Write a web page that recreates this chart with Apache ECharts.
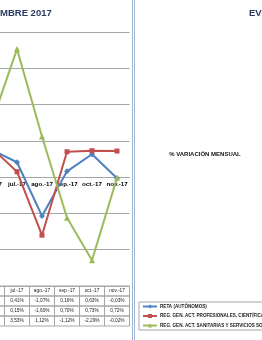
<!DOCTYPE html>
<html><head><meta charset="utf-8">
<script src="https://cdn.jsdelivr.net/npm/echarts@6/dist/echarts.min.js"></script>
<style>html,body{margin:0;padding:0;background:#fff;overflow:hidden;width:262px;height:340px;position:relative}#c{position:absolute;left:-40px;top:0;width:302px;height:340px}</style>
</head><body><div id="c"></div>
<script>
const months = ['jun.-17', 'jul.-17', 'ago.-17', 'sep.-17', 'oct.-17', 'nov.-17'];
const reta = [0.75, 0.41, -1.07, 0.16, 0.63, -0.03];
const profesionales = [0.80, 0.15, -1.60, 0.70, 0.73, 0.72];
const sanitarias = [1.53, 3.53, 1.12, -1.12, -2.29, -0.02];
const seriesNames = ['RETA (AUTÓNOMOS)', 'REG. GEN. ACT. PROFESIONALES, CIENTÍFICAS Y TÉCNICAS', 'REG. GEN. ACT. SANITARIAS Y SERVICIOS SOCIALES'];
const colors = ['#4f81bd', '#c0504d', '#9bbb59'];
const symbols = ['diamond', 'rect', 'triangle'];
const yMin = -3, yMax = 4, yInterval = 1;
const titleLeft = 'MBRE 2017';
const titleRight = 'EV';
const rightSubtitle = '% VARIACIÓN MENSUAL';

const SX = 40; // container shifted left by this many px
const fmt = v => v.toFixed(2).replace('.', ',') + '%';
const chart = echarts.init(document.getElementById('c'), null, {renderer: 'canvas'});
const allData = [reta, profesionales, sanitarias];
const FONT = '"Liberation Sans", Arial, sans-serif';
const gridTop = 32, gridBottom = 54, H = 340;
const plotH = H - gridTop - gridBottom;
const zeroOffset = plotH * (0 - yMin) / (yMax - yMin);

chart.setOption({
  animation: false,
  backgroundColor: '#fff',
  grid: {left: SX - 20.5, right: 132.5, top: gridTop, bottom: gridBottom, containLabel: false},
  xAxis: {
    type: 'category', data: months, boundaryGap: true,
    position: 'bottom', offset: -zeroOffset,
    axisLine: {show: true, onZero: false, lineStyle: {color: '#a6a6a6', width: 1}},
    axisTick: {show: false},
    axisLabel: {fontSize: 6.2, fontWeight: 'bold', color: '#000', fontFamily: FONT, margin: 4, interval: 0}
  },
  yAxis: {
    type: 'value', min: yMin, max: yMax, interval: yInterval,
    axisLabel: {show: false}, axisLine: {show: false}, axisTick: {show: false},
    splitLine: {lineStyle: {color: '#a6a6a6', width: 1}}
  },
  legend: {
    orient: 'vertical', left: SX + 139, top: 302,
    data: seriesNames,
    itemWidth: 14, itemHeight: 5, itemGap: 4.5,
    padding: [2, 3, 2, 3],
    borderColor: '#a6a6a6', borderWidth: 1, borderRadius: 0,
    textStyle: {fontSize: 4.6, fontWeight: 'bold', color: '#222', fontFamily: FONT, padding: [0,0,0,-2]}
  },
  series: seriesNames.map((n, i) => ({
    name: n, type: 'line', data: allData[i],
    color: colors[i],
    symbol: symbols[i], symbolSize: i === 1 ? 5 : 6,
    showSymbol: true,
    lineStyle: {width: 2, color: colors[i]},
    itemStyle: {color: colors[i]}
  }))
});

// data table + texts
const g = [];
const cx = months.map((m, i) => chart.convertToPixel({xAxisIndex: 0}, i));
const colW = cx[1] - cx[0];
const tableTop = chart.convertToPixel({yAxisIndex: 0}, yMin);
const rowH = 10;
const rows = [months, reta.map(fmt), profesionales.map(fmt), sanitarias.map(fmt)];
rows.forEach((row, r) => {
  row.forEach((txt, c) => {
    g.push({type: 'rect', shape: {x: cx[c] - colW / 2, y: tableTop + r * rowH, width: colW, height: rowH},
      style: {fill: 'none', stroke: '#a6a6a6', lineWidth: 1}, silent: true});
    g.push({type: 'text', x: cx[c], y: tableTop + r * rowH + rowH / 2,
      style: {text: txt, fontSize: 4.8, fontFamily: FONT, fill: '#222', align: 'center', verticalAlign: 'middle'}});
  });
});
g.push({type: 'text', x: SX + 0, y: 13, style: {text: titleLeft, fontSize: 9.5, fontWeight: 'bold', fontFamily: FONT, fill: '#2a3c5e', verticalAlign: 'middle'}});
g.push({type: 'text', x: SX + 249, y: 13, style: {text: titleRight, fontSize: 9.5, fontWeight: 'bold', fontFamily: FONT, fill: '#2a3c5e', verticalAlign: 'middle'}});
g.push({type: 'text', x: SX + 205, y: 154, style: {text: rightSubtitle, fontSize: 6, fontWeight: 'bold', fontFamily: FONT, fill: '#111', align: 'center', verticalAlign: 'middle'}});
g.push({type: 'line', shape: {x1: SX + 132.5, y1: 0, x2: SX + 132.5, y2: 340}, style: {stroke: '#9fb4d2', lineWidth: 1}});
g.push({type: 'line', shape: {x1: SX + 134.5, y1: 0, x2: SX + 134.5, y2: 340}, style: {stroke: '#9fb4d2', lineWidth: 1}});
chart.setOption({graphic: g});
</script></body></html>
